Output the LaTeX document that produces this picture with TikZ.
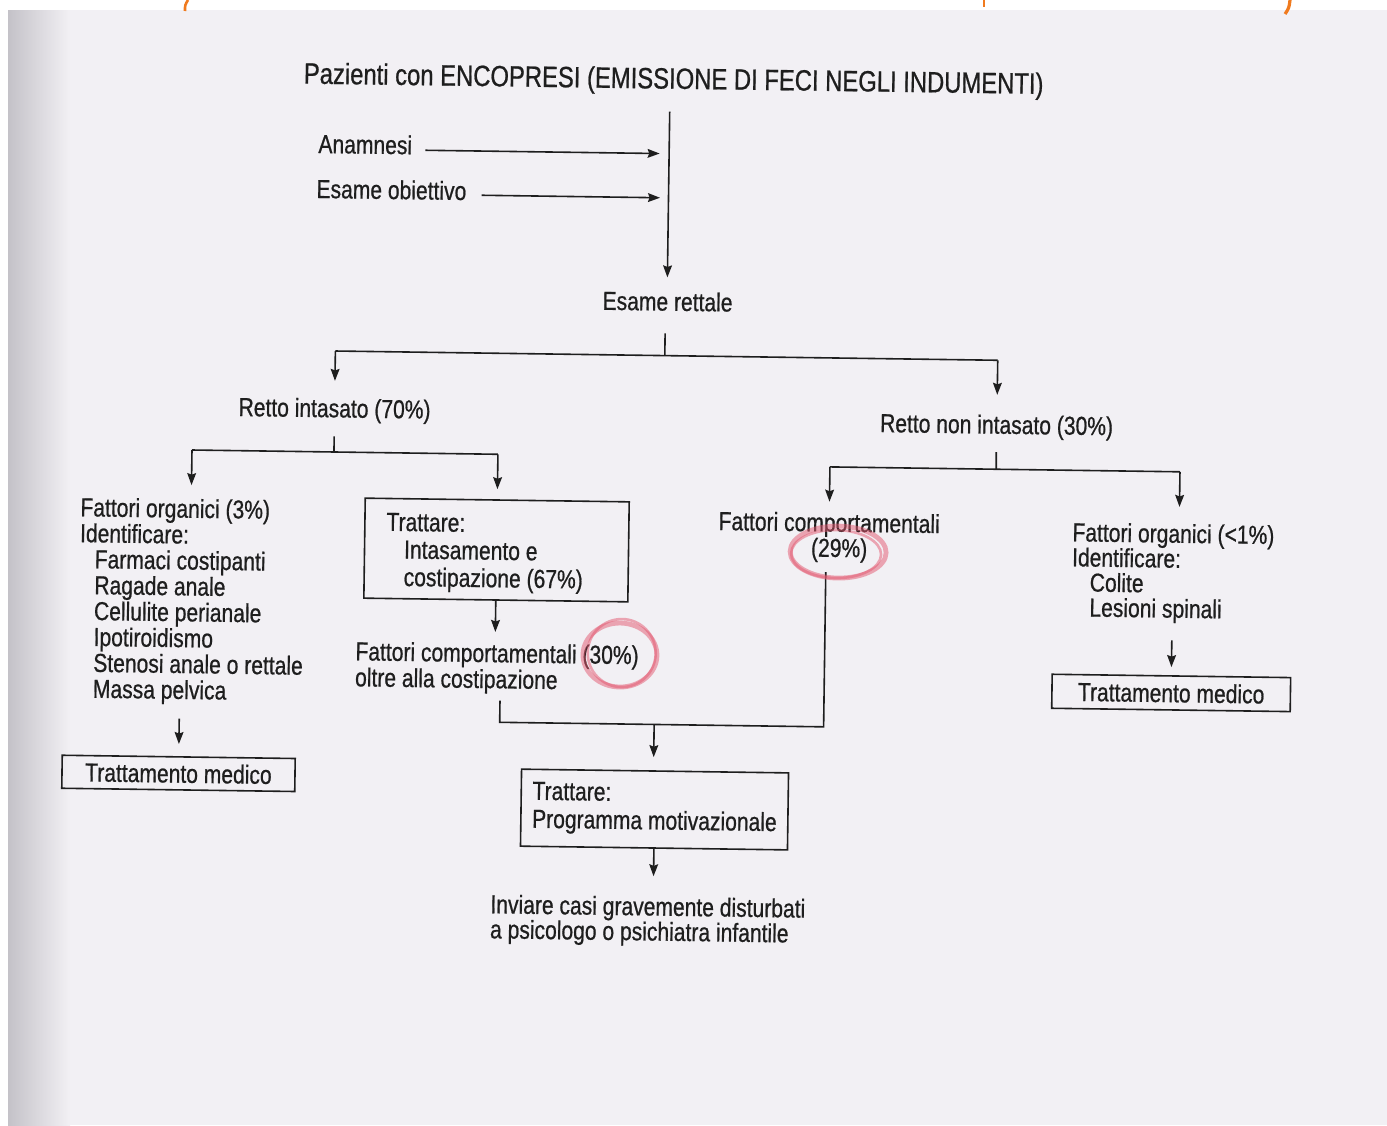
\documentclass[tikz,border=0pt]{standalone}
\usepackage{fontspec}
\setmainfont{Liberation Sans}[FakeStretch=0.81, FakeBold=0.7]
\usetikzlibrary{arrows.meta}
\definecolor{pagebg}{HTML}{F2F0F4}
\definecolor{scanshadow}{HTML}{C4C2C8}
\definecolor{ink}{HTML}{1E1E1E}
\definecolor{marker}{RGB}{228,88,112}
\definecolor{orangemark}{HTML}{F07A1E}
\begin{document}
\begin{tikzpicture}[x=0.5pt,y=-0.5pt,
  ln/.style={draw=ink, line width=0.8pt},
  arr/.style={ln, -{Stealth[length=6pt,width=4.4pt,inset=0.8pt]}},
  txt/.style={inner sep=0pt, text=ink, font=\fontsize{13pt}{13pt}\selectfont},
  ttl/.style={inner sep=0pt, text=ink, font=\fontsize{14.7pt}{15pt}\selectfont},
  boxed/.style={draw=ink, line width=0.8pt, inner sep=0pt},
  ring/.style={draw=marker, line width=2.4pt, opacity=0.5}
]
\useasboundingbox (0,0) rectangle (1387,1125);
% page
\fill[white] (0,0) rectangle (1387,1125);
\fill[pagebg] (8,10) rectangle (1387,1125);
\shade[left color=scanshadow, right color=pagebg] (8,10) rectangle (70,1125);
% orange fragments at the top edge
\draw[orangemark, line width=1.3pt] (188,0) .. controls (185,5) .. (185,11);
\draw[orangemark, line width=1.3pt] (984,0) -- (984,7);
\draw[orangemark, line width=1.6pt] (1290,0) .. controls (1289,8) .. (1285,14);

\begin{scope}[rotate around={-0.8:(690,560)}, transform shape]
% ---------- text nodes ----------
\node[ttl, anchor=base] (title) at (667,89) {Pazienti con ENCOPRESI (EMISSIONE DI FECI NEGLI INDUMENTI)};
\node[txt, anchor=base west] (anam) at (312.3,158.2) {Anamnesi};
\node[txt, anchor=base west] (esob) at (311,203.2) {Esame obiettivo};
\node[txt, anchor=base] (rett) at (664,311) {Esame rettale};
\node[txt, anchor=base] (ri) at (332.5,422.3) {Retto intasato (70\%)};
\node[txt, anchor=base] (rni) at (994.7,429.4) {Retto non intasato (30\%)};
\node[txt, align=left, anchor=north west, font=\fontsize{13pt}{12.95pt}\selectfont] (org1) at (79.4,505.5)
  {Fattori organici (3\%)\\Identificare:\\\hspace*{7.5pt}Farmaci costipanti\\\hspace*{7.5pt}Ragade anale\\\hspace*{7.5pt}Cellulite perianale\\\hspace*{7.5pt}Ipotiroidismo\\\hspace*{7.5pt}Stenosi anale o rettale\\\hspace*{7.5pt}Massa pelvica};
\node[boxed, minimum width=132pt, minimum height=50pt] (box1) at (496.4,552.7) {};
\node[txt, align=left, anchor=north west, font=\fontsize{13pt}{13.75pt}\selectfont] (box1t) at (385.6,516.7)
  {Trattare:\\\hspace*{9pt}Intasamento e\\\hspace*{9pt}costipazione (67\%)};
\node[txt, align=left, anchor=north west, font=\fontsize{13pt}{13pt}\selectfont] (fc30) at (356.4,645.7)
  {Fattori comportamentali (30\%)\\oltre alla costipazione};
\node[txt, anchor=base] (fc29) at (828.7,529.6) {Fattori comportamentali};
\node[txt, anchor=base] (fc29b) at (839,554.9) {(29\%)};
\node[txt, align=left, anchor=north west, font=\fontsize{13pt}{12.5pt}\selectfont] (org2) at (1071.7,516.7)
  {Fattori organici (<1\%)\\Identificare:\\\hspace*{9pt}Colite\\\hspace*{9pt}Lesioni spinali};
\node[txt, boxed, minimum width=116.5pt, minimum height=16.5pt] (tm1) at (181.5,780.5) {Trattamento medico};
\node[txt, boxed, minimum width=119.25pt, minimum height=17pt] (tm2) at (1173,686.2) {Trattamento medico};
\node[boxed, minimum width=133.5pt, minimum height=38.5pt] (box2) at (658,810) {};
\node[txt, align=left, anchor=north west, font=\fontsize{13pt}{14pt}\selectfont] (box2t) at (535.4,783.6)
  {Trattare:\\Programma motivazionale};
\node[txt, align=left, anchor=north west, font=\fontsize{13pt}{12.5pt}\selectfont] (inv) at (494.9,896.8)
  {Inviare casi gravemente disturbati\\a psicologo o psichiatra infantile};

% ---------- junction coordinates ----------
\coordinate (vtop) at (663.5,112);
\coordinate (anamTip) at (654,154);
\coordinate (esobTip) at (655,198.2);
\coordinate (j1) at (662,356);
\coordinate (hl1) at (332.5,356);
\coordinate (hr1) at (995,356);
\coordinate (j2) at (332.5,457);
\coordinate (hl2) at (190.5,457);
\coordinate (hr2) at (496.5,457);
\coordinate (j3) at (995,465);
\coordinate (hl3) at (828.7,465);
\coordinate (hr3) at (1178.8,465);
\coordinate (m1) at (502,725);
\coordinate (m2) at (826,725);
\coordinate (mj) at (656.5,725);

% ---------- connectors ----------
\draw[arr, shorten >=7pt] (vtop) -- (vtop |- rett.north);
\draw[arr, shorten <=6.5pt] (anam.east |- anamTip) -- (anamTip);
\draw[arr, shorten <=7.5pt] (esob.east |- esobTip) -- (esobTip);
\draw[ln, shorten <=11pt] (rett.south -| j1) -- (j1);
\draw[ln] (hl1) -- (hr1);
\draw[arr, shorten >=8.6pt] (hl1) -- (hl1 |- ri.north);
\draw[arr, shorten >=9.8pt] (hr1) -- (hr1 |- rni.north);
\draw[ln, shorten <=6.6pt] (ri.south) -- (j2);
\draw[ln] (hl2) -- (hr2);
\draw[arr, shorten >=6.7pt] (hl2) -- (hl2 |- org1.north);
\draw[arr, shorten >=5pt] (hr2) -- (hr2 |- box1.north);
\draw[ln, shorten <=6.4pt] (rni.south) -- (j3);
\draw[ln] (hl3) -- (hr3);
\draw[arr, shorten >=5.3pt] (hl3) -- (hl3 |- fc29.north);
\draw[arr, shorten >=8.3pt] (hr3) -- (hr3 |- org2.north);
\draw[arr, shorten >=5.5pt] (box1.south) -- (box1.south |- fc30.north);
\draw[ln, shorten <=3.3pt, shorten >=4.8pt] (m1 |- fc30.south) -- (m1) -- (m2) -- (m2 |- fc29b.south);
\draw[arr, shorten >=6.5pt] (mj) -- (mj |- box2.north);
\draw[arr, shorten >=10pt] (box2.south) -- (box2.south |- inv.north);
\draw[arr, shorten <=7pt, shorten >=6pt] (tm1.north |- org1.south) -- (tm1.north);
\draw[arr, shorten <=8.5pt, shorten >=4pt] (tm2.north |- org2.south) -- (tm2.north);

% ---------- hand-drawn marker rings ----------
\draw[ring] (621.3,656) ellipse [x radius=18.5pt, y radius=16pt];
\draw[ring, line width=1.3pt] (623,654) ellipse [x radius=17pt, y radius=17pt];
\draw[ring] (838,550) ellipse [x radius=24pt, y radius=13pt];
\draw[ring, line width=1.3pt] (836,552) ellipse [x radius=22.5pt, y radius=12pt];
\end{scope}
\end{tikzpicture}
\end{document}
